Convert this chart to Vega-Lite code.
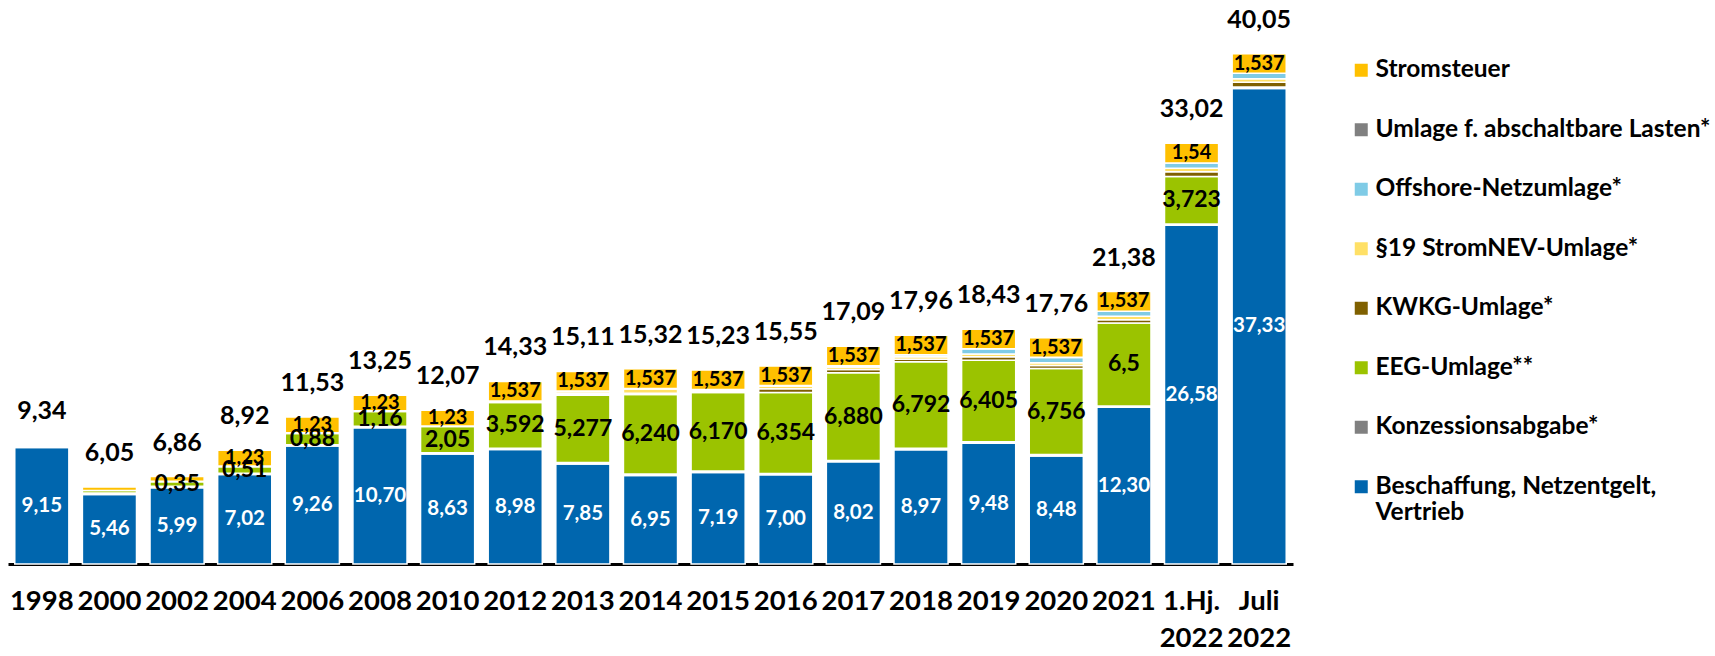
{
  "$schema": "https://vega.github.io/schema/vega-lite/v6.json",
  "width": 1285,
  "height": 564,
  "autosize": {"type": "none"},
  "padding": {"left": 8, "top": 0, "right": 422, "bottom": 92},
  "background": "white",
  "config": {
    "font": "Lato",
    "view": {"stroke": null},
    "legend": {
      "orient": "none",
      "legendX": 1341,
      "legendY": 58,
      "title": null,
      "symbolType": "square",
      "symbolSize": 169,
      "symbolStrokeWidth": 0,
      "labelFont": "Lato",
      "labelFontSize": 24.5,
      "labelFontWeight": "bold",
      "labelColor": "black",
      "rowPadding": 34.5,
      "labelOffset": 2,
      "labelLimit": 400
    }
  },
  "datasets": {
    "parts": [
      {"year": "1998", "comp": "Beschaffung, Netzentgelt, Vertrieb", "value": 9.15, "label": "9,15"},
      {"year": "1998", "comp": "Konzessionsabgabe*", "value": 0.11, "label": ""},
      {"year": "1998", "comp": "EEG-Umlage**", "value": 0.08, "label": ""},

      {"year": "2000", "comp": "Beschaffung, Netzentgelt, Vertrieb", "value": 5.46, "label": "5,46"},
      {"year": "2000", "comp": "Konzessionsabgabe*", "value": 0.11, "label": ""},
      {"year": "2000", "comp": "EEG-Umlage**", "value": 0.2, "label": ""},
      {"year": "2000", "comp": "Stromsteuer", "value": 0.28, "label": ""},

      {"year": "2002", "comp": "Beschaffung, Netzentgelt, Vertrieb", "value": 5.99, "label": "5,99"},
      {"year": "2002", "comp": "Konzessionsabgabe*", "value": 0.11, "label": ""},
      {"year": "2002", "comp": "EEG-Umlage**", "value": 0.35, "label": "0,35"},
      {"year": "2002", "comp": "KWKG-Umlage*", "value": 0.05, "label": ""},
      {"year": "2002", "comp": "Stromsteuer", "value": 0.36, "label": ""},

      {"year": "2004", "comp": "Beschaffung, Netzentgelt, Vertrieb", "value": 7.02, "label": "7,02"},
      {"year": "2004", "comp": "Konzessionsabgabe*", "value": 0.11, "label": ""},
      {"year": "2004", "comp": "EEG-Umlage**", "value": 0.51, "label": "0,51"},
      {"year": "2004", "comp": "KWKG-Umlage*", "value": 0.05, "label": ""},
      {"year": "2004", "comp": "Stromsteuer", "value": 1.23, "label": "1,23"},

      {"year": "2006", "comp": "Beschaffung, Netzentgelt, Vertrieb", "value": 9.26, "label": "9,26"},
      {"year": "2006", "comp": "Konzessionsabgabe*", "value": 0.11, "label": ""},
      {"year": "2006", "comp": "EEG-Umlage**", "value": 0.88, "label": "0,88"},
      {"year": "2006", "comp": "KWKG-Umlage*", "value": 0.05, "label": ""},
      {"year": "2006", "comp": "Stromsteuer", "value": 1.23, "label": "1,23"},

      {"year": "2008", "comp": "Beschaffung, Netzentgelt, Vertrieb", "value": 10.70, "label": "10,70"},
      {"year": "2008", "comp": "Konzessionsabgabe*", "value": 0.11, "label": ""},
      {"year": "2008", "comp": "EEG-Umlage**", "value": 1.16, "label": "1,16"},
      {"year": "2008", "comp": "KWKG-Umlage*", "value": 0.05, "label": ""},
      {"year": "2008", "comp": "Stromsteuer", "value": 1.23, "label": "1,23"},

      {"year": "2010", "comp": "Beschaffung, Netzentgelt, Vertrieb", "value": 8.63, "label": "8,63"},
      {"year": "2010", "comp": "Konzessionsabgabe*", "value": 0.11, "label": ""},
      {"year": "2010", "comp": "EEG-Umlage**", "value": 2.05, "label": "2,05"},
      {"year": "2010", "comp": "KWKG-Umlage*", "value": 0.05, "label": ""},
      {"year": "2010", "comp": "Stromsteuer", "value": 1.23, "label": "1,23"},

      {"year": "2012", "comp": "Beschaffung, Netzentgelt, Vertrieb", "value": 8.98, "label": "8,98"},
      {"year": "2012", "comp": "Konzessionsabgabe*", "value": 0.11, "label": ""},
      {"year": "2012", "comp": "EEG-Umlage**", "value": 3.592, "label": "3,592"},
      {"year": "2012", "comp": "KWKG-Umlage*", "value": 0.06, "label": ""},
      {"year": "2012", "comp": "§19 StromNEV-Umlage*", "value": 0.051, "label": ""},
      {"year": "2012", "comp": "Stromsteuer", "value": 1.537, "label": "1,537"},

      {"year": "2013", "comp": "Beschaffung, Netzentgelt, Vertrieb", "value": 7.85, "label": "7,85"},
      {"year": "2013", "comp": "Konzessionsabgabe*", "value": 0.11, "label": ""},
      {"year": "2013", "comp": "EEG-Umlage**", "value": 5.277, "label": "5,277"},
      {"year": "2013", "comp": "KWKG-Umlage*", "value": 0.126, "label": ""},
      {"year": "2013", "comp": "§19 StromNEV-Umlage*", "value": 0.16, "label": ""},
      {"year": "2013", "comp": "Offshore-Netzumlage*", "value": 0.05, "label": ""},
      {"year": "2013", "comp": "Stromsteuer", "value": 1.537, "label": "1,537"},

      {"year": "2014", "comp": "Beschaffung, Netzentgelt, Vertrieb", "value": 6.95, "label": "6,95"},
      {"year": "2014", "comp": "Konzessionsabgabe*", "value": 0.11, "label": ""},
      {"year": "2014", "comp": "EEG-Umlage**", "value": 6.24, "label": "6,240"},
      {"year": "2014", "comp": "KWKG-Umlage*", "value": 0.1, "label": ""},
      {"year": "2014", "comp": "§19 StromNEV-Umlage*", "value": 0.333, "label": ""},
      {"year": "2014", "comp": "Offshore-Netzumlage*", "value": 0.05, "label": ""},
      {"year": "2014", "comp": "Stromsteuer", "value": 1.537, "label": "1,537"},

      {"year": "2015", "comp": "Beschaffung, Netzentgelt, Vertrieb", "value": 7.19, "label": "7,19"},
      {"year": "2015", "comp": "Konzessionsabgabe*", "value": 0.11, "label": ""},
      {"year": "2015", "comp": "EEG-Umlage**", "value": 6.17, "label": "6,170"},
      {"year": "2015", "comp": "KWKG-Umlage*", "value": 0.05, "label": ""},
      {"year": "2015", "comp": "§19 StromNEV-Umlage*", "value": 0.123, "label": ""},
      {"year": "2015", "comp": "Offshore-Netzumlage*", "value": 0.05, "label": ""},
      {"year": "2015", "comp": "Stromsteuer", "value": 1.537, "label": "1,537"},

      {"year": "2016", "comp": "Beschaffung, Netzentgelt, Vertrieb", "value": 7.00, "label": "7,00"},
      {"year": "2016", "comp": "Konzessionsabgabe*", "value": 0.11, "label": ""},
      {"year": "2016", "comp": "EEG-Umlage**", "value": 6.354, "label": "6,354"},
      {"year": "2016", "comp": "KWKG-Umlage*", "value": 0.3, "label": ""},
      {"year": "2016", "comp": "§19 StromNEV-Umlage*", "value": 0.199, "label": ""},
      {"year": "2016", "comp": "Offshore-Netzumlage*", "value": 0.05, "label": ""},
      {"year": "2016", "comp": "Stromsteuer", "value": 1.537, "label": "1,537"},

      {"year": "2017", "comp": "Beschaffung, Netzentgelt, Vertrieb", "value": 8.02, "label": "8,02"},
      {"year": "2017", "comp": "Konzessionsabgabe*", "value": 0.11, "label": ""},
      {"year": "2017", "comp": "EEG-Umlage**", "value": 6.88, "label": "6,880"},
      {"year": "2017", "comp": "KWKG-Umlage*", "value": 0.25, "label": ""},
      {"year": "2017", "comp": "§19 StromNEV-Umlage*", "value": 0.2, "label": ""},
      {"year": "2017", "comp": "Offshore-Netzumlage*", "value": 0.087, "label": ""},
      {"year": "2017", "comp": "Umlage f. abschaltbare Lasten*", "value": 0.006, "label": ""},
      {"year": "2017", "comp": "Stromsteuer", "value": 1.537, "label": "1,537"},

      {"year": "2018", "comp": "Beschaffung, Netzentgelt, Vertrieb", "value": 8.97, "label": "8,97"},
      {"year": "2018", "comp": "Konzessionsabgabe*", "value": 0.11, "label": ""},
      {"year": "2018", "comp": "EEG-Umlage**", "value": 6.792, "label": "6,792"},
      {"year": "2018", "comp": "KWKG-Umlage*", "value": 0.2, "label": ""},
      {"year": "2018", "comp": "§19 StromNEV-Umlage*", "value": 0.2, "label": ""},
      {"year": "2018", "comp": "Offshore-Netzumlage*", "value": 0.145, "label": ""},
      {"year": "2018", "comp": "Umlage f. abschaltbare Lasten*", "value": 0.006, "label": ""},
      {"year": "2018", "comp": "Stromsteuer", "value": 1.537, "label": "1,537"},

      {"year": "2019", "comp": "Beschaffung, Netzentgelt, Vertrieb", "value": 9.48, "label": "9,48"},
      {"year": "2019", "comp": "Konzessionsabgabe*", "value": 0.11, "label": ""},
      {"year": "2019", "comp": "EEG-Umlage**", "value": 6.405, "label": "6,405"},
      {"year": "2019", "comp": "KWKG-Umlage*", "value": 0.28, "label": ""},
      {"year": "2019", "comp": "§19 StromNEV-Umlage*", "value": 0.2, "label": ""},
      {"year": "2019", "comp": "Offshore-Netzumlage*", "value": 0.416, "label": ""},
      {"year": "2019", "comp": "Umlage f. abschaltbare Lasten*", "value": 0.002, "label": ""},
      {"year": "2019", "comp": "Stromsteuer", "value": 1.537, "label": "1,537"},

      {"year": "2020", "comp": "Beschaffung, Netzentgelt, Vertrieb", "value": 8.48, "label": "8,48"},
      {"year": "2020", "comp": "Konzessionsabgabe*", "value": 0.11, "label": ""},
      {"year": "2020", "comp": "EEG-Umlage**", "value": 6.756, "label": "6,756"},
      {"year": "2020", "comp": "KWKG-Umlage*", "value": 0.226, "label": ""},
      {"year": "2020", "comp": "§19 StromNEV-Umlage*", "value": 0.228, "label": ""},
      {"year": "2020", "comp": "Offshore-Netzumlage*", "value": 0.416, "label": ""},
      {"year": "2020", "comp": "Umlage f. abschaltbare Lasten*", "value": 0.007, "label": ""},
      {"year": "2020", "comp": "Stromsteuer", "value": 1.537, "label": "1,537"},

      {"year": "2021", "comp": "Beschaffung, Netzentgelt, Vertrieb", "value": 12.30, "label": "12,30"},
      {"year": "2021", "comp": "Konzessionsabgabe*", "value": 0.11, "label": ""},
      {"year": "2021", "comp": "EEG-Umlage**", "value": 6.5, "label": "6,5"},
      {"year": "2021", "comp": "KWKG-Umlage*", "value": 0.254, "label": ""},
      {"year": "2021", "comp": "§19 StromNEV-Umlage*", "value": 0.275, "label": ""},
      {"year": "2021", "comp": "Offshore-Netzumlage*", "value": 0.395, "label": ""},
      {"year": "2021", "comp": "Umlage f. abschaltbare Lasten*", "value": 0.009, "label": ""},
      {"year": "2021", "comp": "Stromsteuer", "value": 1.537, "label": "1,537"},

      {"year": "1.Hj. 2022", "comp": "Beschaffung, Netzentgelt, Vertrieb", "value": 26.58, "label": "26,58"},
      {"year": "1.Hj. 2022", "comp": "Konzessionsabgabe*", "value": 0.11, "label": ""},
      {"year": "1.Hj. 2022", "comp": "EEG-Umlage**", "value": 3.723, "label": "3,723"},
      {"year": "1.Hj. 2022", "comp": "KWKG-Umlage*", "value": 0.378, "label": ""},
      {"year": "1.Hj. 2022", "comp": "§19 StromNEV-Umlage*", "value": 0.27, "label": ""},
      {"year": "1.Hj. 2022", "comp": "Offshore-Netzumlage*", "value": 0.419, "label": ""},
      {"year": "1.Hj. 2022", "comp": "Stromsteuer", "value": 1.54, "label": "1,54"},

      {"year": "Juli 2022", "comp": "Beschaffung, Netzentgelt, Vertrieb", "value": 37.33, "label": "37,33"},
      {"year": "Juli 2022", "comp": "Konzessionsabgabe*", "value": 0.11, "label": ""},
      {"year": "Juli 2022", "comp": "KWKG-Umlage*", "value": 0.378, "label": ""},
      {"year": "Juli 2022", "comp": "§19 StromNEV-Umlage*", "value": 0.276, "label": ""},
      {"year": "Juli 2022", "comp": "Offshore-Netzumlage*", "value": 0.419, "label": ""},
      {"year": "Juli 2022", "comp": "Stromsteuer", "value": 1.537, "label": "1,537"}
    ],
    "totals": [
      {"year": "1998", "total": 9.34},
      {"year": "2000", "total": 6.05},
      {"year": "2002", "total": 6.86},
      {"year": "2004", "total": 8.92},
      {"year": "2006", "total": 11.53},
      {"year": "2008", "total": 13.25},
      {"year": "2010", "total": 12.07},
      {"year": "2012", "total": 14.33},
      {"year": "2013", "total": 15.11},
      {"year": "2014", "total": 15.32},
      {"year": "2015", "total": 15.23},
      {"year": "2016", "total": 15.55},
      {"year": "2017", "total": 17.09},
      {"year": "2018", "total": 17.96},
      {"year": "2019", "total": 18.43},
      {"year": "2020", "total": 17.76},
      {"year": "2021", "total": 21.38},
      {"year": "1.Hj. 2022", "total": 33.02},
      {"year": "Juli 2022", "total": 40.05}
    ]
  },
  "encoding": {
    "x": {
      "field": "year",
      "type": "nominal",
      "scale": {
        "domain": ["1998", "2000", "2002", "2004", "2006", "2008", "2010", "2012", "2013", "2014", "2015", "2016", "2017", "2018", "2019", "2020", "2021", "1.Hj. 2022", "Juli 2022"],
        "paddingInner": 0.2,
        "paddingOuter": 0.1
      },
      "axis": {
        "title": null,
        "labelAngle": 0,
        "labelFont": "Lato",
        "labelFontSize": 27.5,
        "labelFontWeight": "bold",
        "labelColor": "black",
        "labelBaseline": "top",
        "labelPadding": 23,
        "labelLineHeight": 37,
        "labelOverlap": false,
        "labelBound": false,
        "labelExpr": "split(datum.label, ' ')",
        "ticks": false,
        "domainColor": "black",
        "domainWidth": 3,
        "grid": false
      }
    }
  },
  "layer": [
    {
      "data": {"name": "parts"},
      "transform": [
        {"calculate": "indexof(['Beschaffung, Netzentgelt, Vertrieb','Konzessionsabgabe*','EEG-Umlage**','KWKG-Umlage*','§19 StromNEV-Umlage*','Offshore-Netzumlage*','Umlage f. abschaltbare Lasten*','Stromsteuer'], datum.comp)", "as": "ord"},
        {"window": [{"op": "sum", "field": "value", "as": "cum"}], "groupby": ["year"], "sort": [{"field": "ord"}], "frame": [null, 0]},
        {"calculate": "datum.cum - datum.value", "as": "start"},
        {"calculate": "datum.cum - datum.value / 2", "as": "mid"}
      ],
      "layer": [
        {
          "mark": {"type": "bar", "stroke": "white", "strokeWidth": 1.5},
          "encoding": {
            "y": {"field": "start", "type": "quantitative", "scale": {"domain": [0, 44.27], "nice": false, "zero": true}, "axis": null},
            "y2": {"field": "cum"},
            "color": {
              "field": "comp",
              "type": "nominal",
              "scale": {
                "domain": ["Stromsteuer", "Umlage f. abschaltbare Lasten*", "Offshore-Netzumlage*", "§19 StromNEV-Umlage*", "KWKG-Umlage*", "EEG-Umlage**", "Konzessionsabgabe*", "Beschaffung, Netzentgelt, Vertrieb"],
                "range": ["#FFC000", "#808080", "#7FCBE6", "#FFE066", "#7F6000", "#9BC300", "#808080", "#0066AE"]
              },
              "legend": {
                "labelExpr": "datum.label == 'Beschaffung, Netzentgelt, Vertrieb' ? ['Beschaffung, Netzentgelt,', 'Vertrieb'] : datum.label"
              }
            }
          }
        },
        {
          "transform": [{"filter": "datum.label != ''"}],
          "mark": {"type": "text", "fontWeight": "bold", "baseline": "middle", "align": "center"},
          "encoding": {
            "y": {"field": "mid", "type": "quantitative"},
            "text": {"field": "label", "type": "nominal"},
            "size": {
              "condition": [
                {"test": "datum.comp == 'EEG-Umlage**'", "value": 23},
                {"test": "datum.comp == 'Beschaffung, Netzentgelt, Vertrieb'", "value": 20.5}
              ],
              "value": 20
            },
            "color": {
              "condition": {"test": "datum.comp == 'Beschaffung, Netzentgelt, Vertrieb'", "value": "white"},
              "value": "black"
            }
          }
        }
      ]
    },
    {
      "data": {"name": "totals"},
      "transform": [
        {"calculate": "replace(format(datum.total, '.2f'), '.', ',')", "as": "totalText"}
      ],
      "mark": {"type": "text", "fontWeight": "bold", "fontSize": 25, "baseline": "middle", "align": "center", "dy": -34, "color": "black"},
      "encoding": {
        "y": {"field": "total", "type": "quantitative"},
        "text": {"field": "totalText", "type": "nominal"}
      }
    }
  ]
}
